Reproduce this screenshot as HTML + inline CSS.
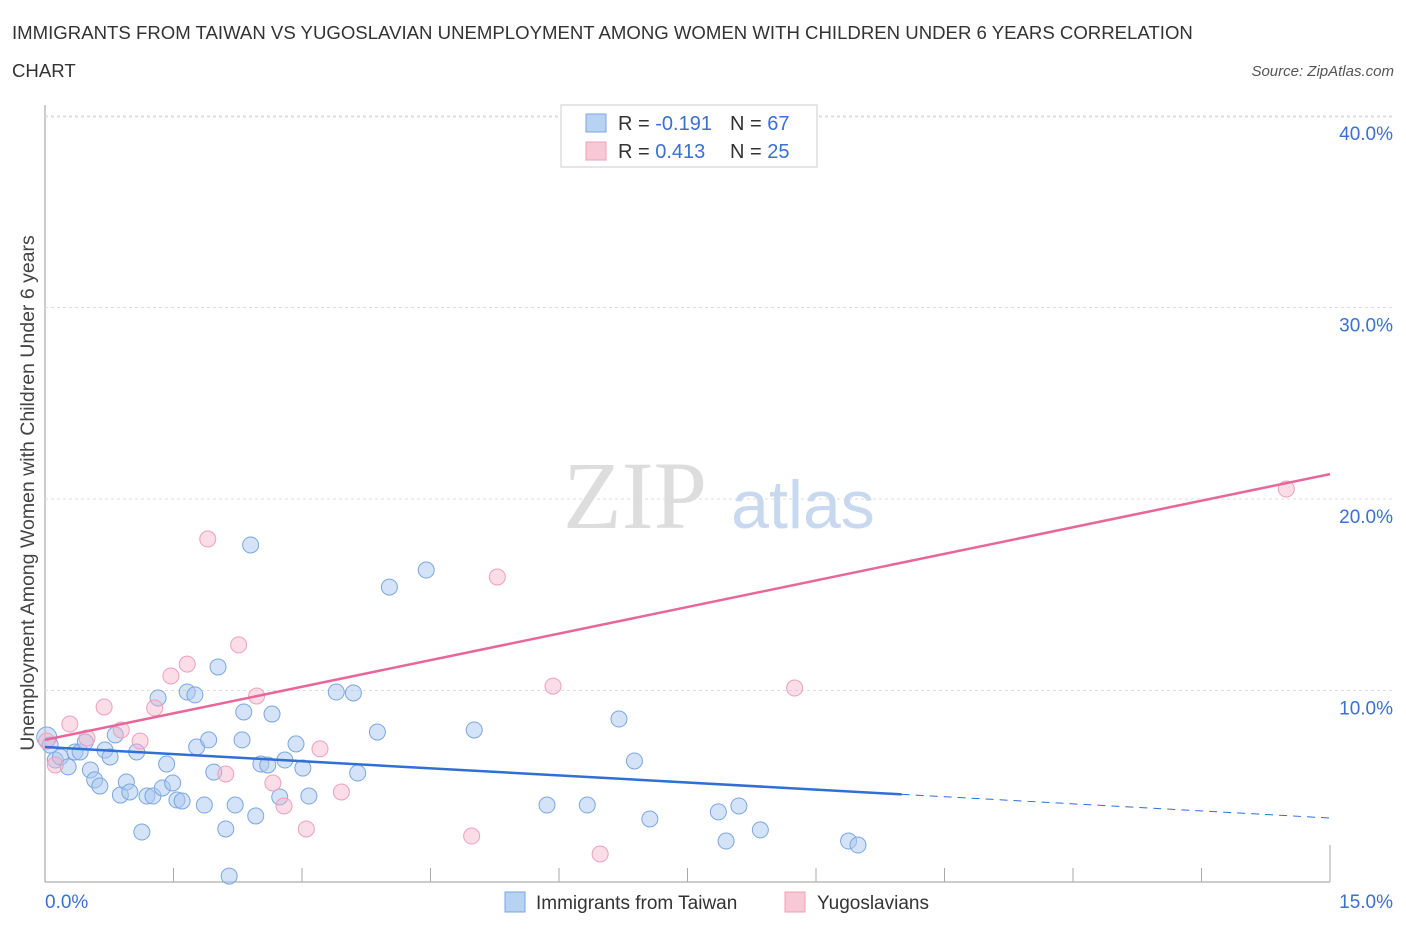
<!DOCTYPE html>
<html><head><meta charset="utf-8"><style>
body{margin:0;background:#fff;font-family:"Liberation Sans",sans-serif;}
</style></head><body>
<svg width="1406" height="930" xmlns="http://www.w3.org/2000/svg" id="chart">
<text x="12" y="39" font-size="18.6" fill="#333">IMMIGRANTS FROM TAIWAN VS YUGOSLAVIAN UNEMPLOYMENT AMONG WOMEN WITH CHILDREN UNDER 6 YEARS CORRELATION</text>
<text x="12" y="77" font-size="18.6" fill="#333">CHART</text>
<text x="1394" y="76" font-size="15" fill="#555" font-style="italic" text-anchor="end">Source: ZipAtlas.com</text>
<text x="34" y="493" font-size="19.5" fill="#444" text-anchor="middle" transform="rotate(-90 34 493)">Unemployment Among Women with Children Under 6 years</text>
<g id="grid"></g>
<text x="635" y="528" font-size="96" fill="#ddd" font-family="Liberation Serif,serif" text-anchor="middle">ZIP</text>
<text x="803" y="528" font-size="68" fill="#c8d8ee" text-anchor="middle">atlas</text>
<g id="marks"></g>
<g>
<rect x="561" y="105" width="256" height="62" fill="#fff" stroke="#ccc"/>
<rect x="586" y="114" width="20" height="18" fill="#b8d2f3" stroke="#7aa7e0"/>
<rect x="586" y="142" width="20" height="18" fill="#f8c8d6" stroke="#f0a0b8"/>
<text x="618" y="130" font-size="20" fill="#333">R = <tspan fill="#3a70d0">-0.191</tspan></text>
<text x="730" y="130" font-size="20" fill="#333">N = <tspan fill="#3a70d0">67</tspan></text>
<text x="618" y="158" font-size="20" fill="#333">R = <tspan fill="#3a70d0"> 0.413</tspan></text>
<text x="730" y="158" font-size="20" fill="#333">N = <tspan fill="#3a70d0">25</tspan></text>
</g>
<g>
<rect x="505" y="892" width="20" height="20" fill="#b8d2f3" stroke="#7aa7e0"/>
<text x="536" y="909" font-size="19" fill="#333">Immigrants from Taiwan</text>
<rect x="785" y="892" width="20" height="20" fill="#f8c8d6" stroke="#f0a0b8"/>
<text x="817" y="909" font-size="19" fill="#333">Yugoslavians</text>
</g>
</svg>
<script>
const yTicks=[10,20,30,40];
const xTickLabels=["0.0%","15.0%"];
const blueX=[0.02,0.06,0.12,0.18,0.27,0.35,0.41,0.47,0.53,0.58,0.64,0.70,0.76,0.82,0.88,0.95,0.99,1.07,1.13,1.19,1.26,1.32,1.37,1.42,1.49,1.54,1.60,1.66,1.75,1.77,1.86,1.91,1.97,2.02,2.11,2.15,2.22,2.30,2.32,2.40,2.46,2.52,2.60,2.65,2.74,2.80,2.93,3.01,3.08,3.40,3.60,3.65,3.88,4.02,4.45,5.01,5.86,6.33,6.70,6.88,7.06,7.86,7.95,8.10,8.35,9.38,9.49];
const blueY=[7.57,7.15,6.37,6.53,6.01,6.79,6.79,7.31,5.85,5.33,5.01,6.89,6.53,7.68,4.54,5.22,4.70,6.79,2.61,4.49,4.49,9.61,4.91,6.16,5.17,4.28,4.23,9.92,9.77,7.05,4.02,7.42,5.74,11.23,2.77,0.31,4.02,7.42,8.88,17.60,3.45,6.16,6.11,8.77,4.44,6.37,7.21,5.95,4.49,9.92,9.87,5.69,7.83,15.40,16.29,7.94,4.02,4.02,8.51,6.32,3.29,3.66,2.14,3.97,2.72,2.14,1.93];
const pinkX=[0.02,0.12,0.29,0.49,0.69,0.89,1.11,1.28,1.47,1.66,1.90,2.11,2.26,2.47,2.66,2.79,3.05,3.21,3.46,4.98,5.28,5.93,6.48,8.75,14.49];
const pinkY=[7.36,6.11,8.25,7.52,9.14,7.94,7.36,9.09,10.76,11.38,17.91,5.64,12.38,9.71,5.17,3.97,2.77,6.95,4.70,2.40,15.93,10.23,1.46,10.13,20.52];
const blueTrend=[7.05,3.34], pinkTrend=[7.42,21.3], blueSolidEnd=10.0;
const X=v=>45+v*85.67, Y=v=>882-v*19.15;
const NS="http://www.w3.org/2000/svg";
const gridG=document.getElementById('grid'), marksG=document.getElementById('marks');
function mk(tag,attrs,parent){const e=document.createElementNS(NS,tag);for(const k in attrs)e.setAttribute(k,attrs[k]);parent.appendChild(e);return e;}
const ax=mk('line',{x1:45,y1:105,x2:45,y2:882,stroke:'#999'},gridG);


const bx=mk('line',{x1:45,y1:882,x2:1330,y2:882,stroke:'#999'},gridG);


for(let i=1;i<=10;i++){const t=mk('line',{x1:45+i*128.5,y1:882,x2:45+i*128.5,y2:i==10?845:868,stroke:'#aaa'},gridG);

}
yTicks.forEach(v=>{const g=mk('line',{x1:45,y1:Y(v),x2:1395,y2:Y(v),stroke:'#ddd','stroke-dasharray':'3,3'},gridG);


const t=mk('text',{x:1393,y:Y(v)+24,'font-size':19,fill:'#3a70d0','text-anchor':'end'},gridG);t.textContent=v.toFixed(1)+'%';

});
const topLine=mk('line',{x1:45,y1:117,x2:1395,y2:117,stroke:'#ddd','stroke-dasharray':'3,3'},gridG);


const xl0=mk('text',{x:45,y:908,'font-size':19,fill:'#3a70d0'},gridG);xl0.textContent=xTickLabels[0];


const xl1=mk('text',{x:1393,y:908,'font-size':19,fill:'#3a70d0','text-anchor':'end'},gridG);xl1.textContent=xTickLabels[1];


blueX.forEach((x,i)=>{const c=mk('circle',{cx:X(x),cy:Y(blueY[i]),r:i==0?10:8,fill:'rgba(170,200,240,0.5)',stroke:'#7aa7e0','stroke-width':1},marksG);

});
pinkX.forEach((x,i)=>{const c=mk('circle',{cx:X(x),cy:Y(pinkY[i]),r:8,fill:'rgba(245,180,200,0.45)',stroke:'#f0a0b8','stroke-width':1},marksG);

});
const by=x=>blueTrend[0]+(blueTrend[1]-blueTrend[0])*x/15;
const bl=mk('line',{x1:X(0),y1:Y(by(0)),x2:X(blueSolidEnd),y2:Y(by(blueSolidEnd)),stroke:'#2f6fd6','stroke-width':2.5},marksG);


const bd=mk('line',{x1:X(blueSolidEnd),y1:Y(by(blueSolidEnd)),x2:X(15),y2:Y(by(15)),stroke:'#2f6fd6','stroke-width':1,'stroke-dasharray':'8,6'},marksG);


const pl=mk('line',{x1:X(0),y1:Y(pinkTrend[0]),x2:X(15),y2:Y(pinkTrend[1]),stroke:'#e8679a','stroke-width':2.5},marksG);


</script>
</body></html>
